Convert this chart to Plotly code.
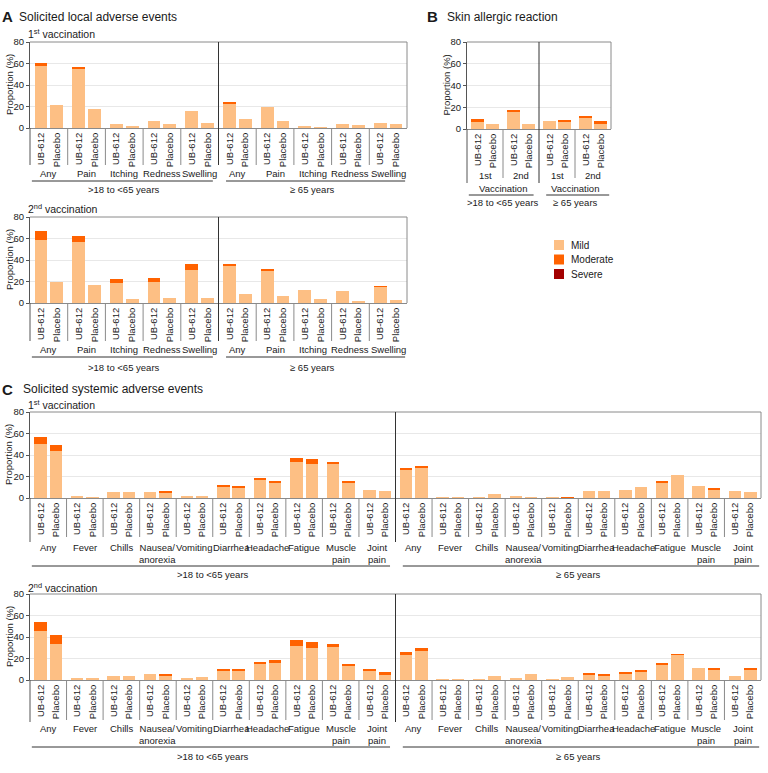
import plotly.graph_objects as go

# ---------------- data ----------------
groups = ["UB-612", "Placebo"]
age_groups = [">18 to <65 years", "\u2265 65 years"]
severity = ["Mild", "Moderate", "Severe"]
local_categories = ["Any", "Pain", "Itching", "Redness", "Swelling"]
skin_categories = ["1st", "2nd"]
systemic_categories = ["Any", "Fever", "Chills", "Nausea/<br>anorexia", "Vomiting",
                       "Diarrhea", "Headache", "Fatigue", "Muscle<br>pain", "Joint<br>pain"]
y_ticks = [0, 20, 40, 60, 80]

# Panel A, 1st vaccination (order: age group, category, UB-612/Placebo)
local_v1_mild = [58, 21, 55, 18, 3.8, 1.9, 6.9, 3.8, 16, 4.7,
                 22.5, 8.8, 19.7, 6.9, 1.6, 0.6, 3.4, 2.5, 5, 4]
local_v1_moderate = [2.2, 0, 2.2, 0, 0, 0, 0, 0, 0, 0,
                     1.8, 0, 0, 0, 0, 0, 0, 0, 0, 0]
local_v1_severe = [0, 0, 0, 0, 0, 0, 0, 0, 0, 0,
                   0, 0, 0, 0, 0, 0, 0, 0, 0, 0]
# Panel A, 2nd vaccination
local_v2_mild = [59, 20, 57, 17, 19, 3.8, 20, 4.7, 31, 4.7,
                 35, 8.3, 30, 6.3, 11.7, 4.1, 10.8, 2.2, 15, 3]
local_v2_moderate = [8, 0, 5, 0, 3.2, 0, 3, 0, 5, 0,
                     1, 0, 0.8, 0, 0, 0, 0, 0, 0.8, 0]
local_v2_severe = [0, 0, 0, 0, 0, 0, 0, 0, 0, 0,
                   0, 0, 0, 0, 0, 0, 0, 0, 0, 0]
# Panel B
skin_mild = [7.2, 4.6, 15.7, 4.6, 7.7, 6.5, 10.5, 5]
skin_moderate = [1.7, 0, 2.1, 0, 0, 1.5, 1, 2]
skin_severe = [0, 0, 0, 0, 0, 0, 0, 0]
# Panel C, 1st vaccination
systemic_v1_mild = [50.5, 43.8, 1.6, 0.7, 5.7, 5.7, 5.7, 4.8, 1.6, 1.6,
                    11, 10, 16.5, 14.6, 33.3, 32, 31.4, 14.6, 7.9, 6.7,
                    26.3, 27.6, 0.5, 0.5, 0.5, 3.3, 1.3, 0.5, 0.5, 0,
                    6.7, 6.7, 7.6, 9.8, 14.6, 21, 10.8, 8, 6.7, 5.5]
systemic_v1_moderate = [6, 5.7, 0, 0, 0, 0, 0, 1.2, 0, 0,
                        1, 1, 1.9, 1.3, 4.2, 4.5, 1.9, 1.6, 0, 0,
                        1.9, 2.5, 0, 0, 0, 0, 0, 0, 0, 0.8,
                        0, 0, 0, 0, 1, 0, 0, 1, 0, 0]
systemic_v1_severe = [0, 0, 0, 0, 0, 0, 0, 0, 0, 0,
                      0, 0, 0, 0, 0, 0, 0, 0, 0, 0,
                      0, 0, 0, 0, 0, 0, 0, 0, 0, 0,
                      0, 0, 0, 0, 0, 0, 0, 0, 0, 0]
# Panel C, 2nd vaccination
systemic_v2_mild = [45.7, 33.3, 1.6, 1.6, 3.8, 3.8, 5.7, 4.1, 1.6, 2.9,
                    8.6, 8.6, 14.6, 15.9, 32, 30.2, 30.5, 12.7, 8.6, 5.4,
                    23.2, 27, 0.5, 0.5, 0.5, 3.5, 1.3, 5.7, 0.5, 2.9,
                    4.8, 4, 6, 8, 14.3, 23.5, 10.8, 10, 3.5, 10]
systemic_v2_moderate = [8.3, 8.3, 0, 0, 0, 0, 0, 1.6, 0, 0,
                        1.2, 1.2, 2.5, 2.5, 4.8, 5.4, 2.8, 2.5, 1.2, 1.6,
                        2.8, 2.5, 0, 0, 0, 0, 0, 0, 0, 0,
                        0.9, 0.8, 0.7, 0.9, 0.9, 0.6, 0, 0.8, 0, 0.8]
systemic_v2_severe = [0, 0, 0, 0, 0, 0, 0, 0, 0, 0,
                      0, 0, 0, 0, 0, 0, 0, 0, 0, 0,
                      0, 0, 0, 0, 0, 0, 0, 0, 0, 0,
                      0, 0, 0, 0, 0, 0, 0, 0, 0, 0]

# ---------------- style / layout ----------------
W, H = 768, 773
FONT = "Liberation Sans, Arial, sans-serif"
TXT = "#1a1a1a"
COLORS = {"Mild": "#FDBF84", "Moderate": "#FF6200", "Severe": "#A30000"}


def px(x):
    return x / W


def py(y):
    return 1 - y / H


panels = [
    dict(cats=local_categories, data=(local_v1_mild, local_v1_moderate, local_v1_severe),
         left=30, right=407, top=42, bottom=128, sep_end=165, ext=165,
         cat_y=172, line_y=181, age_y=190, ylab_x=9),
    dict(cats=local_categories, data=(local_v2_mild, local_v2_moderate, local_v2_severe),
         left=30, right=407, top=217, bottom=303, sep_end=341, ext=341,
         cat_y=348, line_y=357, age_y=367, ylab_x=9),
    dict(cats=skin_categories, data=(skin_mild, skin_moderate, skin_severe),
         left=467, right=611, top=42, bottom=129, sep_end=178, ext=183,
         cat_y=174, vacc_y=188, line_y=195, age_y=203, ylab_x=446),
    dict(cats=systemic_categories, data=(systemic_v1_mild, systemic_v1_moderate, systemic_v1_severe),
         left=30, right=761, top=412, bottom=498, sep_end=537, ext=542,
         cat_y=546, line_y=566, age_y=574, ylab_x=9),
    dict(cats=systemic_categories, data=(systemic_v2_mild, systemic_v2_moderate, systemic_v2_severe),
         left=30, right=761, top=594, bottom=680, sep_end=720, ext=722,
         cat_y=727, line_y=747, age_y=756, ylab_x=9),
]

fig = go.Figure()
shapes, annotations = [], []
layout_axes = {}

for pi, p in enumerate(panels):
    sfx = "" if pi == 0 else str(pi + 1)
    xa, ya = "x" + sfx, "y" + sfx
    cats = p["cats"]
    nc = len(cats)
    nhalf = nc * 2
    n = nhalf * 2
    xs, ticktext = [], []
    for a in range(len(age_groups)):
        for c in range(nc):
            for g, gname in enumerate(groups):
                xs.append(a * nhalf + c * 2 + 0.5 + (-0.42 if g == 0 else 0.42))
                ticktext.append(gname)

    for sev, vals in zip(severity, p["data"]):
        fig.add_trace(go.Bar(
            x=xs, y=vals, xaxis=xa, yaxis=ya, name=sev, legendgroup=sev,
            showlegend=False, width=0.68,
            marker=dict(color=COLORS[sev], line=dict(width=0)),
        ))

    layout_axes["xaxis" + sfx] = dict(
        domain=[px(p["left"]), px(p["right"])], anchor=ya, range=[-0.5, n - 0.5],
        tickvals=xs, ticktext=ticktext, tickangle=-90, ticks="", showgrid=False,
        showline=True, linecolor="#8a8a8a", linewidth=1, zeroline=False,
        automargin=False,
        tickfont=dict(size=9.5, color=TXT, family=FONT), fixedrange=True,
    )
    layout_axes["yaxis" + sfx] = dict(
        domain=[py(p["bottom"]), py(p["top"])], anchor=xa, range=[0, 80],
        tickvals=y_ticks, ticks="outside", ticklen=3, tickcolor="#555",
        showline=True, linecolor="#555", linewidth=1, showgrid=True,
        gridcolor="#e8e8e8", gridwidth=1, zeroline=False, automargin=False,
        tickfont=dict(size=9.5, color=TXT, family=FONT), fixedrange=True,
    )

    # frame: top and right border
    shapes.append(dict(type="line", xref=xa + " domain", yref=ya + " domain",
                       x0=0, x1=1, y0=1, y1=1, line=dict(color="#8a8a8a", width=1)))
    shapes.append(dict(type="line", xref=xa + " domain", yref=ya + " domain",
                       x0=1, x1=1, y0=0, y1=1, line=dict(color="#8a8a8a", width=1)))
    # left axis extension below
    shapes.append(dict(type="line", xref=xa + " domain", yref="paper",
                       x0=0, x1=0, y0=py(p["bottom"]), y1=py(p["ext"]),
                       line=dict(color="#555", width=1)))
    # age group divider
    shapes.append(dict(type="line", xref=xa, yref="paper",
                       x0=nhalf - 0.5, x1=nhalf - 0.5, y0=py(p["top"]), y1=py(p["ext"]),
                       line=dict(color="#333", width=1)))
    # category separators
    for a in range(2):
        for c in range(1, nc):
            xv = a * nhalf + c * 2 - 0.5
            shapes.append(dict(type="line", xref=xa, yref="paper",
                               x0=xv, x1=xv, y0=py(p["bottom"]), y1=py(p["sep_end"]),
                               line=dict(color="#8a8a8a", width=1)))
    # category labels
    for a in range(2):
        for c in range(nc):
            annotations.append(dict(xref=xa, yref="paper", x=a * nhalf + c * 2 + 0.5,
                                    y=py(p["cat_y"] - 6), yanchor="top", showarrow=False,
                                    text=cats[c], font=dict(size=9.5, color=TXT, family=FONT)))
    # age group rows
    for a, ag in enumerate(age_groups):
        x0 = a * nhalf - 0.5 + (0.1 if a == 0 else 0.4)
        x1 = (a + 1) * nhalf - 0.5 - (0.3 if a == 0 else 0.1)
        shapes.append(dict(type="line", xref=xa, yref="paper", x0=x0, x1=x1,
                           y0=py(p["line_y"]), y1=py(p["line_y"]),
                           line=dict(color="#333", width=1)))
        annotations.append(dict(xref=xa, yref="paper", x=a * nhalf + nhalf / 2 - 0.5,
                                y=py(p["age_y"]), yanchor="middle", showarrow=False,
                                text=ag, font=dict(size=9.5, color=TXT, family=FONT)))
        if "vacc_y" in p:
            annotations.append(dict(xref=xa, yref="paper", x=a * nhalf + nhalf / 2 - 0.5,
                                    y=py(p["vacc_y"]), yanchor="middle", showarrow=False,
                                    text="Vaccination", font=dict(size=9.5, color=TXT, family=FONT)))
    # y-axis title
    annotations.append(dict(xref="paper", yref="paper", x=px(p["ylab_x"]),
                            y=py((p["top"] + p["bottom"]) / 2), textangle=-90,
                            xanchor="center", yanchor="middle",
                            showarrow=False, text="Proportion (%)",
                            font=dict(size=9.5, color=TXT, family=FONT)))


def label(x, y, text, size, bold=False):
    annotations.append(dict(xref="paper", yref="paper", x=px(x), y=py(y), xanchor="left",
                            yanchor="middle", showarrow=False,
                            text=f"<b>{text}</b>" if bold else text,
                            font=dict(size=size, color=TXT, family=FONT)))


label(0, 17, "A", 15, bold=True)
label(17, 17, "Solicited local adverse events", 12)
label(26, 33, "1<sup>st</sup> vaccination", 10.5)
label(26, 208, "2<sup>nd</sup> vaccination", 10.5)
label(425, 17, "B", 15, bold=True)
label(445, 17, "Skin allergic reaction", 12)
label(0, 389, "C", 15, bold=True)
label(21, 389, "Solicited systemic adverse events", 12)
label(26, 404, "1<sup>st</sup> vaccination", 10.5)
label(26, 587, "2<sup>nd</sup> vaccination", 10.5)

# manual legend (compact spacing as in the reference)
for i, sev in enumerate(severity):
    yc = 245 + i * 14.5
    shapes.append(dict(type="rect", xref="paper", yref="paper",
                       x0=px(554), x1=px(564), y0=py(yc + 5), y1=py(yc - 5),
                       fillcolor=COLORS[sev], line=dict(width=0)))
    annotations.append(dict(xref="paper", yref="paper", x=px(569), y=py(yc),
                            xanchor="left", yanchor="middle", showarrow=False,
                            text=sev, font=dict(size=10, color=TXT, family=FONT)))

fig.update_layout(
    width=W, height=H, margin=dict(l=0, r=0, t=0, b=0, autoexpand=False),
    paper_bgcolor="white", plot_bgcolor="white",
    barmode="stack", bargap=0,
    font=dict(family=FONT, color=TXT),
    showlegend=False,
    shapes=shapes, annotations=annotations,
    **layout_axes,
)

fig.write_html("out.html", config={"displayModeBar": False},
               post_script="document.body.style.margin='0';document.body.style.overflow='hidden';")
